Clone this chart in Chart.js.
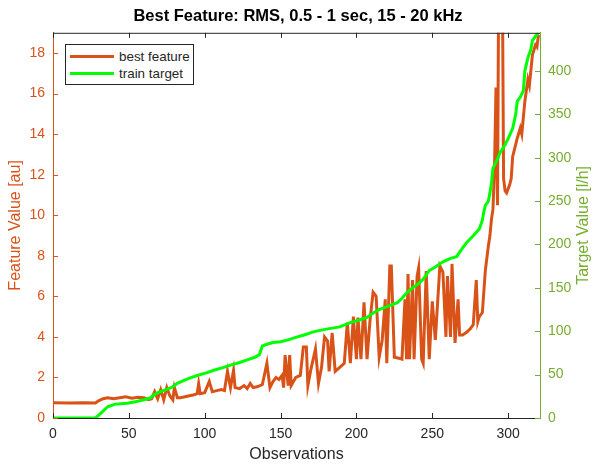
<!DOCTYPE html>
<html>
<head>
<meta charset="utf-8">
<script src="https://cdn.jsdelivr.net/npm/chart.js@4.4.0/dist/chart.umd.min.js"></script>
<style>
html,body{margin:0;padding:0;background:#fff;}
#wrap{position:relative;width:596px;height:464px;}
#legend{position:absolute;left:65px;top:44px;width:129px;height:41px;border:1px solid #262626;background:#fff;box-sizing:border-box;font:13.4px "Liberation Sans",Arial,sans-serif;color:#262626;padding-top:3px;}
#legend .row{display:flex;align-items:center;height:17px;}
#legend .sw{width:44px;height:3px;margin:0 5px 0 4px;}
</style>
</head>
<body>
<div id="wrap">
<canvas id="chart" width="596" height="464"></canvas>
<div id="legend"></div>
</div>
<script>
const chartTitle="Best Feature: RMS, 0.5 - 1 sec, 15 - 20 kHz";
const seriesNames=["best feature","train target"];
const xTitle="Observations", leftTitle="Feature Value [au]", rightTitle="Target Value [l/h]";

// observation index -> feature value [au]
const obsFeature=[0,10,20,28,30,33,36,40,44,48,52,56,60,63,65,67,69,71,73,75,77,79,80,82,84,87,90,93,95,96,97,100,103,105,108,111,113,115,117,119,120,123,126,128,130,132,135,138,141,143,145,147,149,151,152,153,155,156,157,160,163,165,167,168,170,173,175,177,179,181,182,184,186,189,192,194,196,198,200,201,203,205,207,209,211,213,215,217,219,220,222,223,225,228,230,232,233,234,235,237,238,240,241,243,244,246,248,250,252,255,257,259,260,262,263,265,267,268,270,273,275,277,279,280,281,283,285,287,288,289,290,291,292,293,294,295,296,297,298,299,301,302,303,305,306,308,309,311,313,314,316,318,319,320];
const featureValues=[0.75,0.74,0.75,0.74,0.85,0.95,1.0,0.95,1.0,1.05,0.98,1.02,1.0,0.9,0.95,1.3,0.95,1.4,0.9,1.5,1.1,0.9,1.5,1.0,1.0,1.05,1.1,1.15,1.2,1.7,1.2,1.25,1.8,1.3,1.35,1.4,1.35,2.3,1.5,2.35,1.5,1.45,1.6,1.45,1.7,1.5,1.55,1.65,2.7,1.5,1.8,2.0,1.9,2.1,1.5,3.1,1.6,3.1,1.6,2.0,2.1,3.5,3.5,1.6,2.4,3.4,1.7,2.5,4.0,3.8,2.3,4.2,2.3,2.5,2.7,4.7,2.7,5.0,2.9,4.95,2.9,5.7,2.9,4.85,6.2,6.0,3.0,3.85,5.85,2.7,7.5,7.5,3.0,2.95,2.9,5.85,2.9,7.1,2.9,6.8,2.9,7.0,7.4,2.9,2.7,7.25,2.9,5.75,3.85,7.5,7.2,4.0,7.0,4.0,7.6,3.7,5.85,4.1,4.1,4.25,4.4,4.6,6.8,4.75,5.0,5.2,7.3,8.5,9.0,9.8,10.3,12.3,16.3,10.5,25,28,24,11.8,11.2,11.1,11.5,11.8,12.9,13.5,13.8,14.3,14.0,15.6,16.7,16.4,17.9,18.4,18.3,18.9];

// observation index -> target value [l/h]
const obsTarget=[0,28,30,33,36,41,49,55,60,64,67,70,75,79,82,86,90,95,101,106,112,117,123,128,133,136,138,141,145,150,155,160,166,171,176,182,189,196,202,207,211,215,221,227,230,233,237,241,244,248,252,257,262,266,270,273,277,281,283,284,285,287,289,290,292,295,298,300,303,305,306,308,310,311,313,315,316,318,320];
const targetValues=[0,0,3,8,13,16,17,19,21,23,27,30,33,36,40,43,46,49,52,55,58,61,64,67,70,73,83,85,87,88,90,93,96,99,101,103,105,110,113,116,121,125,129,133,138,144,150,155,160,170,174,180,184,186,196,203,210,218,228,238,245,250,270,288,295,307,315,322,334,350,365,370,377,400,415,425,435,440,444];

const xTicks=[0,50,100,150,200,250,300];
const leftTicks=[0,2,4,6,8,10,12,14,16,18];
const rightTicks=[0,50,100,150,200,250,300,350,400];

const orange="#D95319", green="#00FF00", olive="#77AC30", dark="#262626";
const fontFam='"Liberation Sans", Arial, sans-serif';

// inward tick marks, top box line and the right label (reads bottom to top)
const matlabAxes={
  id:"matlabAxes",
  afterDatasetsDraw(chart){
    const {ctx,chartArea:a,scales}=chart;
    ctx.save();
    ctx.lineWidth=1;
    ctx.strokeStyle=dark;
    ctx.beginPath();
    ctx.moveTo(a.left,a.top+0.5);ctx.lineTo(a.right,a.top+0.5);
    xTicks.forEach(v=>{
      const px=Math.round(scales.x.getPixelForValue(v))+0.5;
      ctx.moveTo(px,a.bottom);ctx.lineTo(px,a.bottom-5);
      ctx.moveTo(px,a.top);ctx.lineTo(px,a.top+5);
    });
    ctx.stroke();
    ctx.strokeStyle=orange;
    ctx.beginPath();
    leftTicks.forEach(v=>{
      const py=Math.round(scales.yL.getPixelForValue(v))+0.5;
      ctx.moveTo(a.left,py);ctx.lineTo(a.left+5,py);
    });
    ctx.stroke();
    ctx.strokeStyle=olive;
    ctx.beginPath();
    rightTicks.forEach(v=>{
      const py=Math.round(scales.yR.getPixelForValue(v))+0.5;
      ctx.moveTo(a.right,py);ctx.lineTo(a.right-5,py);
    });
    ctx.stroke();
    ctx.translate(584,(a.top+a.bottom)/2);
    ctx.rotate(-Math.PI/2);
    ctx.fillStyle=olive;
    ctx.font="16px "+fontFam;
    ctx.textAlign="center";
    ctx.textBaseline="middle";
    ctx.fillText(rightTitle,0,0);
    ctx.restore();
  }
};

const toPts=(xs,ys)=>xs.map((x,i)=>({x:x,y:ys[i]}));

new Chart(document.getElementById("chart"),{
  type:"line",
  data:{
    datasets:[
      {label:seriesNames[0],data:toPts(obsFeature,featureValues),yAxisID:"yL",borderColor:orange,borderWidth:3,pointRadius:0,tension:0,order:2},
      {label:seriesNames[1],data:toPts(obsTarget,targetValues),yAxisID:"yR",borderColor:green,borderWidth:3,pointRadius:0,tension:0,order:1}
    ]
  },
  options:{
    responsive:false,
    animation:false,
    layout:{padding:0},
    plugins:{
      legend:{display:false},
      tooltip:{enabled:false},
      title:{display:true,text:chartTitle,color:"#000",font:{family:fontFam,size:16.5,weight:"bold"},padding:{top:7,bottom:6}}
    },
    scales:{
      x:{
        type:"linear",min:0,max:321,
        afterBuildTicks:s=>{s.ticks=xTicks.map(v=>({value:v}));},
        afterFit:s=>{s.height=46;},
        grid:{display:false,drawTicks:false},
        border:{display:true,color:dark,width:1},
        ticks:{color:dark,font:{family:fontFam,size:14},padding:8},
        title:{display:true,text:xTitle,color:dark,font:{family:fontFam,size:16},padding:{top:0,bottom:0}}
      },
      yL:{
        type:"linear",position:"left",min:0,max:19,
        afterBuildTicks:s=>{s.ticks=leftTicks.map(v=>({value:v}));},
        afterFit:s=>{s.width=53;},
        grid:{display:false,drawTicks:false},
        border:{display:true,color:orange,width:1},
        ticks:{color:orange,font:{family:fontFam,size:14},padding:8},
        title:{display:true,text:leftTitle,color:orange,font:{family:fontFam,size:16},padding:{top:6,bottom:0}}
      },
      yR:{
        type:"linear",position:"right",min:0,max:444,
        afterBuildTicks:s=>{s.ticks=rightTicks.map(v=>({value:v}));},
        afterFit:s=>{s.width=56;},
        grid:{display:false,drawTicks:false},
        border:{display:true,color:olive,width:1},
        ticks:{color:olive,font:{family:fontFam,size:14},padding:8},
        title:{display:false}
      }
    }
  },
  plugins:[matlabAxes]
});

// legend box inside the axes
const legendEl=document.getElementById("legend");
[orange,green].forEach((c,i)=>{
  const row=document.createElement("div");
  row.className="row";
  const sw=document.createElement("span");
  sw.className="sw";sw.style.background=c;
  const tx=document.createElement("span");
  tx.textContent=seriesNames[i];
  row.appendChild(sw);row.appendChild(tx);
  legendEl.appendChild(row);
});
</script>
</body>
</html>
